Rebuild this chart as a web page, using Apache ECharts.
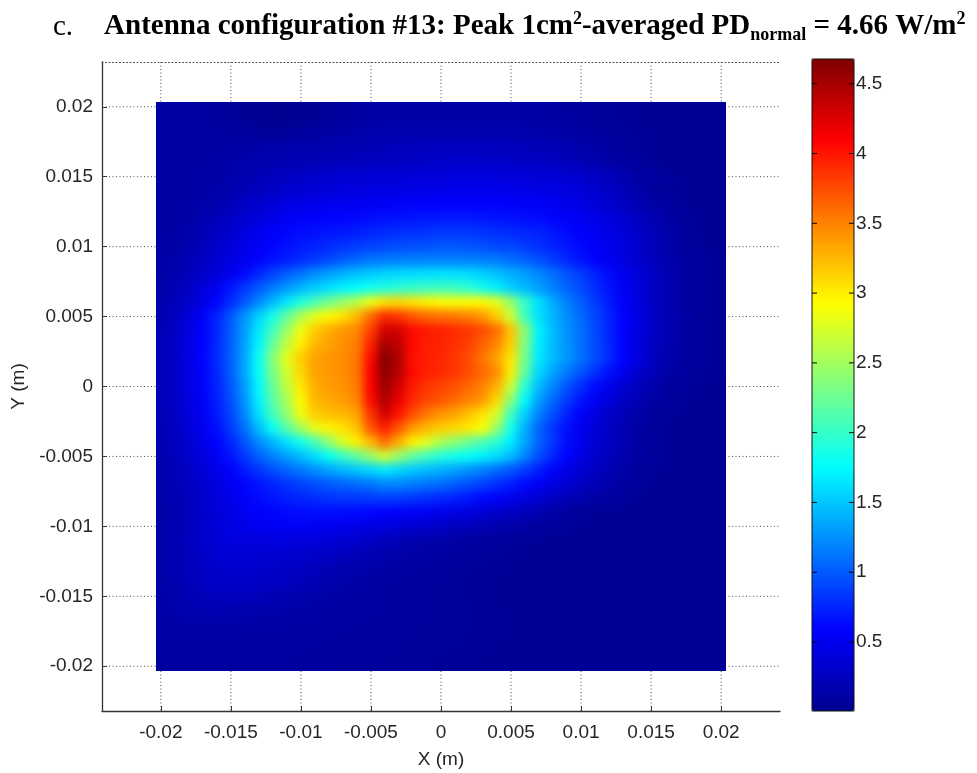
<!DOCTYPE html>
<html>
<head>
<meta charset="utf-8">
<script src="https://cdn.jsdelivr.net/npm/echarts@6/dist/echarts.min.js"></script>
<style>
  html, body { margin: 0; padding: 0; background: #fff; }
  #wrap { position: relative; width: 977px; height: 773px; }
  #base, #heat { position: absolute; left: 0; top: 0; width: 977px; height: 773px; }
  #heat { filter: blur(5px); }
</style>
</head>
<body>
<div id="wrap"><div id="base"></div><div id="heat"></div></div>
<script>
// Sample positions of the normal power-density map (mm)
const xNodesMm = [-20,-19,-18,-17,-16,-15,-14,-13,-12,-11,-10,-9,-8,-7,-6,-5,-4,-3,-2,-1,0,1,2,3,4,5,6,7,8,9,10,11,12,13,14,15,16,17,18,19,20];
const yNodesMm = [20,19,18,17,16,15,14,13,12,11,10,9,8,7,6,5,4,3,2,1,0,-1,-2,-3,-4,-5,-6,-7,-8,-9,-10,-11,-12,-13,-14,-15,-16,-17,-18,-19,-20];

// PD_normal (W/m^2); one row per y node (top row = +20 mm), one column per x node
const pdGrid = [
  [0.10,0.10,0.10,0.09,0.08,0.06,0.04,0.03,0.02,0.02, 0.03,0.04,0.06,0.08,0.10,0.11,0.12,0.12,0.12,0.12, 0.12, 0.12,0.12,0.12,0.12,0.12,0.12,0.11,0.10,0.09,0.08, 0.07,0.06,0.05,0.05,0.04,0.04,0.04,0.04,0.04,0.04],
  [0.10,0.10,0.10,0.10,0.09,0.07,0.05,0.03,0.02,0.02, 0.03,0.05,0.07,0.09,0.11,0.12,0.13,0.14,0.14,0.14, 0.14, 0.14,0.14,0.14,0.14,0.14,0.13,0.12,0.11,0.10,0.08, 0.07,0.06,0.05,0.05,0.04,0.04,0.04,0.04,0.04,0.04],
  [0.10,0.10,0.10,0.10,0.10,0.09,0.08,0.07,0.07,0.08, 0.09,0.10,0.12,0.14,0.15,0.16,0.17,0.18,0.18,0.18, 0.18, 0.18,0.18,0.18,0.18,0.17,0.16,0.15,0.14,0.12,0.10, 0.08,0.07,0.06,0.05,0.05,0.04,0.04,0.04,0.04,0.04],
  [0.10,0.10,0.10,0.10,0.11,0.12,0.13,0.14,0.15,0.16, 0.17,0.17,0.18,0.19,0.20,0.21,0.22,0.23,0.24,0.25, 0.26, 0.26,0.26,0.26,0.25,0.24,0.23,0.22,0.21,0.19,0.16, 0.13,0.10,0.08,0.06,0.05,0.04,0.04,0.04,0.04,0.04],
  [0.10,0.10,0.10,0.11,0.12,0.13,0.15,0.17,0.18,0.19, 0.20,0.21,0.22,0.23,0.24,0.26,0.27,0.28,0.29,0.30, 0.31, 0.32,0.32,0.32,0.31,0.30,0.29,0.28,0.26,0.24,0.21, 0.17,0.13,0.10,0.07,0.05,0.04,0.04,0.04,0.04,0.04],
  [0.10,0.10,0.11,0.12,0.13,0.15,0.18,0.21,0.24,0.27, 0.30,0.32,0.34,0.35,0.36,0.37,0.38,0.38,0.39,0.40, 0.40, 0.41,0.41,0.41,0.41,0.40,0.39,0.38,0.37,0.35,0.32, 0.28,0.24,0.19,0.14,0.10,0.07,0.05,0.04,0.04,0.04],
  [0.10,0.10,0.11,0.12,0.14,0.17,0.21,0.25,0.29,0.33, 0.35,0.37,0.39,0.41,0.42,0.43,0.44,0.45,0.46,0.47, 0.47, 0.48,0.48,0.48,0.48,0.48,0.47,0.46,0.44,0.42,0.38, 0.33,0.29,0.22,0.13,0.08,0.06,0.05,0.04,0.04,0.04],
  [0.10,0.10,0.12,0.14,0.18,0.22,0.28,0.33,0.38,0.43, 0.46,0.48,0.50,0.51,0.52,0.53,0.55,0.56,0.57,0.58, 0.59, 0.59,0.59,0.59,0.58,0.57,0.56,0.55,0.52,0.49,0.45, 0.40,0.35,0.28,0.20,0.13,0.09,0.06,0.05,0.04,0.04],
  [0.10,0.11,0.13,0.17,0.22,0.28,0.35,0.41,0.47,0.53, 0.57,0.59,0.60,0.61,0.62,0.64,0.66,0.67,0.68,0.69, 0.70, 0.70,0.70,0.69,0.67,0.66,0.65,0.63,0.60,0.56,0.52, 0.47,0.41,0.35,0.27,0.20,0.13,0.08,0.05,0.04,0.04],
  [0.10,0.12,0.15,0.20,0.26,0.33,0.42,0.50,0.56,0.61, 0.64,0.66,0.68,0.70,0.72,0.75,0.78,0.80,0.81,0.82, 0.84, 0.85,0.84,0.82,0.80,0.78,0.76,0.73,0.69,0.63,0.58, 0.52,0.46,0.40,0.32,0.24,0.16,0.10,0.06,0.05,0.04],
  [0.11,0.13,0.17,0.22,0.30,0.38,0.47,0.55,0.61,0.66, 0.70,0.74,0.78,0.82,0.86,0.89,0.92,0.94,0.95,0.96, 0.98, 0.98,0.97,0.95,0.92,0.90,0.86,0.81,0.75,0.68,0.62, 0.56,0.49,0.42,0.33,0.25,0.17,0.11,0.07,0.05,0.04],
  [0.12,0.15,0.20,0.26,0.34,0.43,0.52,0.60,0.66,0.72, 0.78,0.85,0.92,1.00,1.07,1.12,1.15,1.17,1.18,1.18, 1.18, 1.18,1.18,1.17,1.15,1.10,1.04,0.96,0.87,0.77,0.68, 0.59,0.51,0.43,0.35,0.26,0.18,0.12,0.08,0.06,0.05],
  [0.13,0.17,0.23,0.30,0.39,0.50,0.62,0.76,0.90,1.02, 1.13,1.24,1.33,1.41,1.48,1.53,1.57,1.59,1.61,1.62, 1.64, 1.63,1.60,1.55,1.48,1.40,1.32,1.22,1.10,0.98,0.87, 0.75,0.63,0.52,0.41,0.30,0.20,0.13,0.09,0.06,0.05],
  [0.14,0.20,0.28,0.38,0.52,0.68,0.85,1.00,1.15,1.29, 1.42,1.53,1.62,1.70,1.76,1.83,1.90,1.96,2.00,2.03, 2.05, 2.02,1.96,1.84,1.70,1.55,1.44,1.31,1.18,1.05,0.93, 0.80,0.67,0.54,0.42,0.30,0.20,0.13,0.09,0.06,0.05],
  [0.15,0.22,0.32,0.45,0.60,0.78,0.98,1.20,1.43,1.65, 1.90,2.10,2.28,2.45,2.62,2.85,3.05,3.10,3.05,2.98, 2.92, 2.90,2.92,2.95,2.80,2.45,2.00,1.62,1.38,1.18,1.02, 0.86,0.71,0.57,0.44,0.31,0.20,0.13,0.09,0.06,0.05],
  [0.17,0.26,0.38,0.55,0.74,0.98,1.26,1.55,1.85,2.20, 2.55,2.80,2.95,3.05,3.25,3.60,3.90,3.85,3.70,3.62, 3.58, 3.55,3.50,3.40,3.15,2.70,2.05,1.62,1.42,1.24,1.08, 0.92,0.76,0.60,0.46,0.32,0.21,0.14,0.09,0.06,0.05],
  [0.19,0.28,0.42,0.58,0.76,1.00,1.30,1.65,2.05,2.45, 2.85,3.15,3.30,3.40,3.48,3.80,4.30,4.30,4.05,3.98, 3.95, 3.90,3.85,3.75,3.60,3.20,2.40,1.70,1.45,1.26,1.10, 0.93,0.76,0.60,0.45,0.31,0.20,0.13,0.09,0.06,0.05],
  [0.20,0.29,0.43,0.59,0.77,1.01,1.33,1.72,2.20,2.63, 3.00,3.25,3.35,3.43,3.52,3.95,4.50,4.38,4.05,3.96, 3.94, 3.88,3.80,3.65,3.48,3.15,2.35,1.68,1.45,1.27,1.11, 0.94,0.77,0.60,0.44,0.30,0.19,0.12,0.08,0.06,0.05],
  [0.21,0.30,0.44,0.60,0.78,1.02,1.35,1.80,2.35,2.80, 3.15,3.35,3.40,3.45,3.55,4.05,4.66,4.45,4.02,3.95, 3.92, 3.85,3.75,3.55,3.35,3.05,2.30,1.66,1.45,1.28,1.12, 0.95,0.78,0.60,0.43,0.29,0.18,0.12,0.08,0.06,0.05],
  [0.21,0.30,0.43,0.58,0.76,1.00,1.35,1.78,2.30,2.70, 3.10,3.35,3.40,3.45,3.55,4.10,4.62,4.42,4.05,3.95, 3.92, 3.85,3.75,3.62,3.45,3.00,2.20,1.58,1.35,1.15,0.98, 0.82,0.66,0.50,0.36,0.24,0.15,0.10,0.07,0.05,0.05],
  [0.21,0.30,0.42,0.57,0.74,0.97,1.30,1.74,2.22,2.62, 3.02,3.30,3.38,3.42,3.52,4.10,4.55,4.30,3.98,3.85, 3.80, 3.72,3.62,3.50,3.30,2.70,1.95,1.45,1.20,0.98,0.80, 0.64,0.50,0.37,0.26,0.17,0.11,0.07,0.05,0.05,0.04],
  [0.20,0.29,0.41,0.55,0.72,0.94,1.26,1.70,2.15,2.52, 2.95,3.25,3.32,3.38,3.48,4.05,4.45,4.20,3.90,3.78, 3.70, 3.62,3.50,3.40,3.10,2.40,1.75,1.32,1.08,0.86,0.68, 0.52,0.40,0.29,0.20,0.13,0.08,0.06,0.05,0.04,0.04],
  [0.20,0.28,0.40,0.53,0.69,0.90,1.20,1.62,2.05,2.42, 2.85,3.15,3.22,3.25,3.35,3.85,4.30,4.00,3.75,3.55, 3.42, 3.35,3.20,3.05,2.75,2.05,1.55,1.18,0.95,0.74,0.57, 0.43,0.32,0.22,0.14,0.09,0.06,0.05,0.04,0.04,0.04],
  [0.19,0.27,0.38,0.50,0.65,0.84,1.10,1.45,1.80,2.15, 2.50,2.80,2.98,3.05,3.20,3.70,3.95,3.70,3.40,3.25, 3.15, 3.10,3.02,2.90,2.45,1.85,1.40,1.05,0.84,0.66,0.50, 0.38,0.28,0.19,0.12,0.08,0.05,0.04,0.04,0.04,0.04],
  [0.18,0.25,0.35,0.46,0.59,0.75,0.97,1.22,1.42,1.62, 1.82,2.08,2.40,2.75,3.00,3.25,3.60,3.30,3.00,2.80, 2.55, 2.40,2.25,2.10,1.95,1.68,1.35,1.05,0.84,0.64,0.50, 0.38,0.28,0.19,0.12,0.08,0.05,0.04,0.04,0.04,0.04],
  [0.17,0.23,0.32,0.42,0.53,0.67,0.84,1.02,1.18,1.32, 1.45,1.60,1.80,2.00,2.20,2.45,2.70,2.45,2.20,2.05, 1.92, 1.85,1.78,1.70,1.60,1.45,1.20,0.95,0.76,0.58,0.45, 0.34,0.25,0.17,0.11,0.07,0.05,0.04,0.04,0.04,0.04],
  [0.16,0.21,0.29,0.38,0.48,0.58,0.70,0.83,0.94,1.04, 1.14,1.24,1.34,1.42,1.50,1.58,1.65,1.58,1.50,1.45, 1.40, 1.34,1.26,1.18,1.08,0.98,0.86,0.72,0.58,0.46,0.36, 0.27,0.20,0.13,0.09,0.06,0.05,0.04,0.04,0.04,0.04],
  [0.15,0.19,0.26,0.33,0.42,0.51,0.60,0.68,0.75,0.82, 0.88,0.94,1.00,1.04,1.08,1.13,1.20,1.20,1.16,1.12, 1.08, 1.02,0.95,0.88,0.80,0.72,0.62,0.53,0.44,0.36,0.28, 0.21,0.15,0.10,0.07,0.05,0.04,0.04,0.04,0.04,0.04],
  [0.14,0.18,0.25,0.32,0.40,0.48,0.56,0.63,0.68,0.72, 0.76,0.79,0.82,0.84,0.85,0.86,0.88,0.86,0.83,0.80, 0.77, 0.73,0.68,0.62,0.56,0.50,0.43,0.36,0.28,0.22,0.17, 0.12,0.09,0.07,0.05,0.04,0.04,0.04,0.04,0.04,0.04],
  [0.14,0.17,0.23,0.30,0.38,0.45,0.52,0.58,0.61,0.63, 0.65,0.65,0.65,0.64,0.63,0.61,0.59,0.57,0.54,0.52, 0.49, 0.46,0.42,0.38,0.33,0.28,0.23,0.18,0.13,0.09,0.06, 0.05,0.04,0.04,0.04,0.04,0.04,0.04,0.04,0.04,0.04],
  [0.14,0.18,0.24,0.31,0.39,0.44,0.48,0.51,0.53,0.54, 0.54,0.53,0.52,0.50,0.48,0.45,0.42,0.39,0.36,0.33, 0.30, 0.27,0.24,0.20,0.17,0.14,0.11,0.09,0.07,0.06,0.05, 0.04,0.04,0.04,0.04,0.04,0.04,0.04,0.04,0.04,0.04],
  [0.14,0.18,0.25,0.32,0.38,0.41,0.42,0.42,0.42,0.42, 0.41,0.40,0.38,0.35,0.32,0.28,0.24,0.21,0.17,0.15, 0.13, 0.11,0.10,0.08,0.07,0.06,0.05,0.05,0.04,0.04,0.04, 0.04,0.04,0.04,0.04,0.04,0.04,0.04,0.04,0.04,0.04],
  [0.14,0.18,0.24,0.30,0.35,0.37,0.37,0.37,0.36,0.35, 0.34,0.32,0.29,0.26,0.23,0.20,0.17,0.15,0.13,0.11, 0.10, 0.09,0.08,0.07,0.06,0.05,0.05,0.04,0.04,0.04,0.04, 0.04,0.04,0.04,0.04,0.04,0.04,0.04,0.04,0.04,0.04],
  [0.14,0.18,0.23,0.28,0.32,0.33,0.33,0.32,0.31,0.29, 0.27,0.24,0.21,0.18,0.16,0.14,0.12,0.11,0.10,0.09, 0.08, 0.07,0.06,0.05,0.05,0.05,0.04,0.04,0.04,0.04,0.04, 0.04,0.04,0.04,0.04,0.04,0.04,0.04,0.04,0.04,0.04],
  [0.14,0.17,0.22,0.27,0.30,0.30,0.30,0.29,0.28,0.26, 0.23,0.20,0.17,0.15,0.13,0.11,0.10,0.09,0.08,0.07, 0.07, 0.06,0.05,0.05,0.05,0.04,0.04,0.04,0.04,0.04,0.04, 0.04,0.04,0.04,0.04,0.04,0.04,0.04,0.04,0.04,0.04],
  [0.13,0.16,0.20,0.23,0.25,0.25,0.24,0.23,0.21,0.19, 0.17,0.15,0.13,0.12,0.11,0.10,0.09,0.08,0.07,0.07, 0.06, 0.06,0.05,0.05,0.05,0.04,0.04,0.04,0.04,0.04,0.04, 0.04,0.04,0.04,0.04,0.04,0.04,0.04,0.04,0.04,0.04],
  [0.13,0.15,0.18,0.19,0.19,0.18,0.17,0.16,0.15,0.14, 0.13,0.12,0.11,0.10,0.10,0.09,0.09,0.08,0.08,0.07, 0.07, 0.06,0.06,0.05,0.05,0.05,0.04,0.04,0.04,0.04,0.04, 0.04,0.04,0.04,0.04,0.04,0.04,0.04,0.04,0.04,0.04],
  [0.12,0.13,0.14,0.14,0.14,0.14,0.13,0.13,0.12,0.12, 0.11,0.11,0.10,0.10,0.09,0.09,0.08,0.08,0.07,0.07, 0.06, 0.06,0.06,0.05,0.05,0.05,0.04,0.04,0.04,0.04,0.04, 0.04,0.04,0.04,0.04,0.04,0.04,0.04,0.04,0.04,0.04],
  [0.11,0.11,0.11,0.11,0.11,0.11,0.11,0.10,0.10,0.10, 0.09,0.09,0.09,0.09,0.08,0.08,0.08,0.07,0.07,0.06, 0.06, 0.06,0.05,0.05,0.05,0.05,0.04,0.04,0.04,0.04,0.04, 0.04,0.04,0.04,0.04,0.04,0.04,0.04,0.04,0.04,0.04],
  [0.10,0.10,0.10,0.10,0.10,0.10,0.10,0.10,0.10,0.09, 0.09,0.09,0.08,0.08,0.08,0.08,0.07,0.07,0.06,0.06, 0.06, 0.05,0.05,0.05,0.05,0.04,0.04,0.04,0.04,0.04,0.04, 0.04,0.04,0.04,0.04,0.04,0.04,0.04,0.04,0.04,0.04],
  [0.09,0.09,0.09,0.09,0.09,0.09,0.09,0.09,0.09,0.09, 0.08,0.08,0.08,0.08,0.07,0.07,0.07,0.06,0.06,0.06, 0.05, 0.05,0.05,0.05,0.04,0.04,0.04,0.04,0.04,0.04,0.04, 0.04,0.04,0.04,0.04,0.04,0.04,0.04,0.04,0.04,0.04]
];

// Axis ticks and limits (m)
const xTicks = [-0.02, -0.015, -0.01, -0.005, 0, 0.005, 0.01, 0.015, 0.02];
const yTicks = [-0.02, -0.015, -0.01, -0.005, 0, 0.005, 0.01, 0.015, 0.02];
const xRange = [-0.0242, 0.0242];
const yRange = [-0.0232, 0.0232];
const mapHalfWidth = 0.0203;

// Colour bar (W/m^2)
const cbTicks = [0.5, 1, 1.5, 2, 2.5, 3, 3.5, 4, 4.5];
const cbRange = [0.006, 4.677];
const jetColors = ['#000090', '#0000ff', '#0080ff', '#00ffff', '#80ff80', '#ffff00', '#ff8000', '#ff0000', '#800000'];

const sansFont = '"Liberation Sans", Arial, Helvetica, sans-serif';
const serifFont = '"Liberation Serif", "Times New Roman", serif';
const labelFont = { fontFamily: sansFont, fontSize: 19, color: '#262626' };

const gridMain = { left: 102, top: 62, width: 678, height: 649, outerBoundsMode: 'none' };
const cellHalf = 0.0005;
const edgePad = 0.0012;
const cbTickLen = 5;

const xNodes = xNodesMm.map(v => v / 1000);
const yNodes = yNodesMm.map(v => v / 1000);
const cells = [];
pdGrid.forEach((row, j) => row.forEach((v, i) => cells.push([xNodes[i], yNodes[j], v, i, j])));

// ---------- frame, grid lines, colour bar, title ----------
const base = echarts.init(document.getElementById('base'));
const dotted = [1, 2.5];

function vLine(params, api) {
  const a = api.coord([api.value(0), yRange[1]]);
  const b = api.coord([api.value(0), yRange[0]]);
  return { type: 'line', shape: { x1: a[0], y1: a[1], x2: b[0], y2: b[1] },
           style: { stroke: '#4a4a4a', lineWidth: 1, lineDash: dotted } };
}
function hLine(params, api) {
  const a = api.coord([xRange[0], api.value(1)]);
  const b = api.coord([xRange[1], api.value(1)]);
  return { type: 'line', shape: { x1: a[0], y1: a[1], x2: b[0], y2: b[1] },
           style: { stroke: '#4a4a4a', lineWidth: 1, lineDash: dotted } };
}
// colour-bar tick marks on both inner edges
function cbTick(params, api) {
  const l = api.coord([0, api.value(1)]);
  const r = api.coord([1, api.value(1)]);
  const st = { stroke: '#000', lineWidth: 1 };
  return { type: 'group', children: [
    { type: 'line', shape: { x1: l[0], y1: l[1], x2: l[0] + cbTickLen, y2: l[1] }, style: st },
    { type: 'line', shape: { x1: r[0] - cbTickLen, y1: r[1], x2: r[0], y2: r[1] }, style: st }
  ] };
}
function cbFrame(params, api) {
  const a = api.coord([0, cbRange[1]]);
  const b = api.coord([1, cbRange[0]]);
  return { type: 'rect', shape: { x: a[0], y: a[1], width: b[0] - a[0], height: b[1] - a[1] },
           style: { fill: 'none', stroke: '#111', lineWidth: 1 } };
}

base.setOption({
  animation: false,
  backgroundColor: '#ffffff',
  title: {
    left: 48, top: 5,
    text: '{n|c.}{gap| }{b|Antenna configuration #13: Peak 1cm}{sup|2}{b|-averaged PD}{sub|normal}{b| = 4.66 W/m}{sup|2}',
    textStyle: {
      fontWeight: 'normal',
      rich: {
        n: { fontFamily: serifFont, fontSize: 29, fontWeight: 'normal', color: '#000', lineHeight: 34 },
        gap: { width: 31, fontSize: 29, lineHeight: 34 },
        b: { fontFamily: serifFont, fontSize: 29, fontWeight: 'bold', color: '#000', lineHeight: 34 },
        sup: { fontFamily: serifFont, fontSize: 18, fontWeight: 'bold', color: '#000', lineHeight: 20, verticalAlign: 'top' },
        sub: { fontFamily: serifFont, fontSize: 18, fontWeight: 'bold', color: '#000', lineHeight: 18, verticalAlign: 'bottom' }
      }
    }
  },
  grid: [
    gridMain,
    { left: 812, top: 59, width: 42, height: 652, outerBoundsMode: 'none' }
  ],
  xAxis: [
    { gridIndex: 0, type: 'value', min: xRange[0], max: xRange[1], position: 'bottom',
      axisLine: { show: true, onZero: false, lineStyle: { color: '#333', width: 1.3 } },
      axisTick: { show: true, inside: true, length: 5, customValues: xTicks, lineStyle: { color: '#333' } },
      axisLabel: Object.assign({ customValues: xTicks, margin: 12 }, labelFont),
      splitLine: { show: false },
      name: 'X (m)', nameLocation: 'middle', nameGap: 39, nameTextStyle: labelFont },
    { gridIndex: 0, type: 'value', min: xRange[0], max: xRange[1], position: 'top',
      axisLine: { show: true, onZero: false, lineStyle: { color: '#4a4a4a', width: 1, type: dotted } },
      axisTick: { show: false }, axisLabel: { show: false }, splitLine: { show: false } },
    { gridIndex: 1, type: 'value', min: 0, max: 1, show: false }
  ],
  yAxis: [
    { gridIndex: 0, type: 'value', min: yRange[0], max: yRange[1], position: 'left',
      axisLine: { show: true, onZero: false, lineStyle: { color: '#333', width: 1.3 } },
      axisTick: { show: true, inside: true, length: 5, customValues: yTicks, lineStyle: { color: '#333' } },
      axisLabel: Object.assign({ customValues: yTicks, margin: 9 }, labelFont),
      splitLine: { show: false },
      name: 'Y (m)', nameLocation: 'middle', nameGap: 66, nameRotate: 90, nameTextStyle: labelFont },
    { gridIndex: 1, type: 'value', min: cbRange[0], max: cbRange[1], position: 'right',
      axisLine: { show: false }, axisTick: { show: false },
      axisLabel: Object.assign({ customValues: cbTicks, margin: 2 }, labelFont),
      splitLine: { show: false } }
  ],
  visualMap: [{
    type: 'continuous', min: cbRange[0], max: cbRange[1], left: 812, top: 59,
    itemWidth: 42, itemHeight: 652, padding: 0, calculable: false, text: null,
    seriesIndex: [], inRange: { color: jetColors }, z: 4
  }],
  series: [
    { type: 'custom', xAxisIndex: 0, yAxisIndex: 0, silent: true, z: 1,
      data: xTicks.map(v => [v, 0]), renderItem: vLine },
    { type: 'custom', xAxisIndex: 0, yAxisIndex: 0, silent: true, z: 1,
      data: yTicks.map(v => [0, v]), renderItem: hLine },
    { type: 'custom', xAxisIndex: 2, yAxisIndex: 1, silent: true, z: 20,
      data: cbTicks.map(v => [0, v]), renderItem: cbTick },
    { type: 'custom', xAxisIndex: 2, yAxisIndex: 1, silent: true, z: 20,
      data: [[0, cbRange[0]]], renderItem: cbFrame }
  ]
});

// ---------- smoothly shaded power-density map ----------
const heatEl = document.getElementById('heat');
const heat = echarts.init(heatEl);
const nx = xNodes.length, ny = yNodes.length;

heat.setOption({
  animation: false,
  grid: gridMain,
  xAxis: { type: 'value', min: xRange[0], max: xRange[1], show: false },
  yAxis: { type: 'value', min: yRange[0], max: yRange[1], show: false },
  visualMap: { show: false, type: 'continuous', min: cbRange[0], max: cbRange[1], dimension: 2,
               seriesIndex: 0, inRange: { color: jetColors } },
  series: [{
    type: 'custom', silent: true,
    encode: { x: 0, y: 1 },
    data: cells,
    renderItem(params, api) {
      const x = api.value(0), y = api.value(1);
      const i = api.value(3), j = api.value(4);
      const left = x - cellHalf - (i === 0 ? edgePad : 0);
      const right = x + cellHalf + (i === nx - 1 ? edgePad : 0);
      const top = y + cellHalf + (j === 0 ? edgePad : 0);
      const bottom = y - cellHalf - (j === ny - 1 ? edgePad : 0);
      const p0 = api.coord([left, top]);
      const p1 = api.coord([right, bottom]);
      const c = api.visual('color');
      return { type: 'rect', shape: { x: p0[0], y: p0[1], width: p1[0] - p0[0], height: p1[1] - p0[1] },
               style: { fill: c, stroke: c, lineWidth: 1 } };
    }
  }]
});

// Keep the blurred map inside its own rectangle
const tl = heat.convertToPixel({ gridIndex: 0 }, [-mapHalfWidth, mapHalfWidth]);
const br = heat.convertToPixel({ gridIndex: 0 }, [mapHalfWidth, -mapHalfWidth]);
heatEl.style.clipPath = 'inset(' + tl[1] + 'px ' + (977 - br[0]) + 'px ' + (773 - br[1]) + 'px ' + tl[0] + 'px)';
</script>
</body>
</html>
